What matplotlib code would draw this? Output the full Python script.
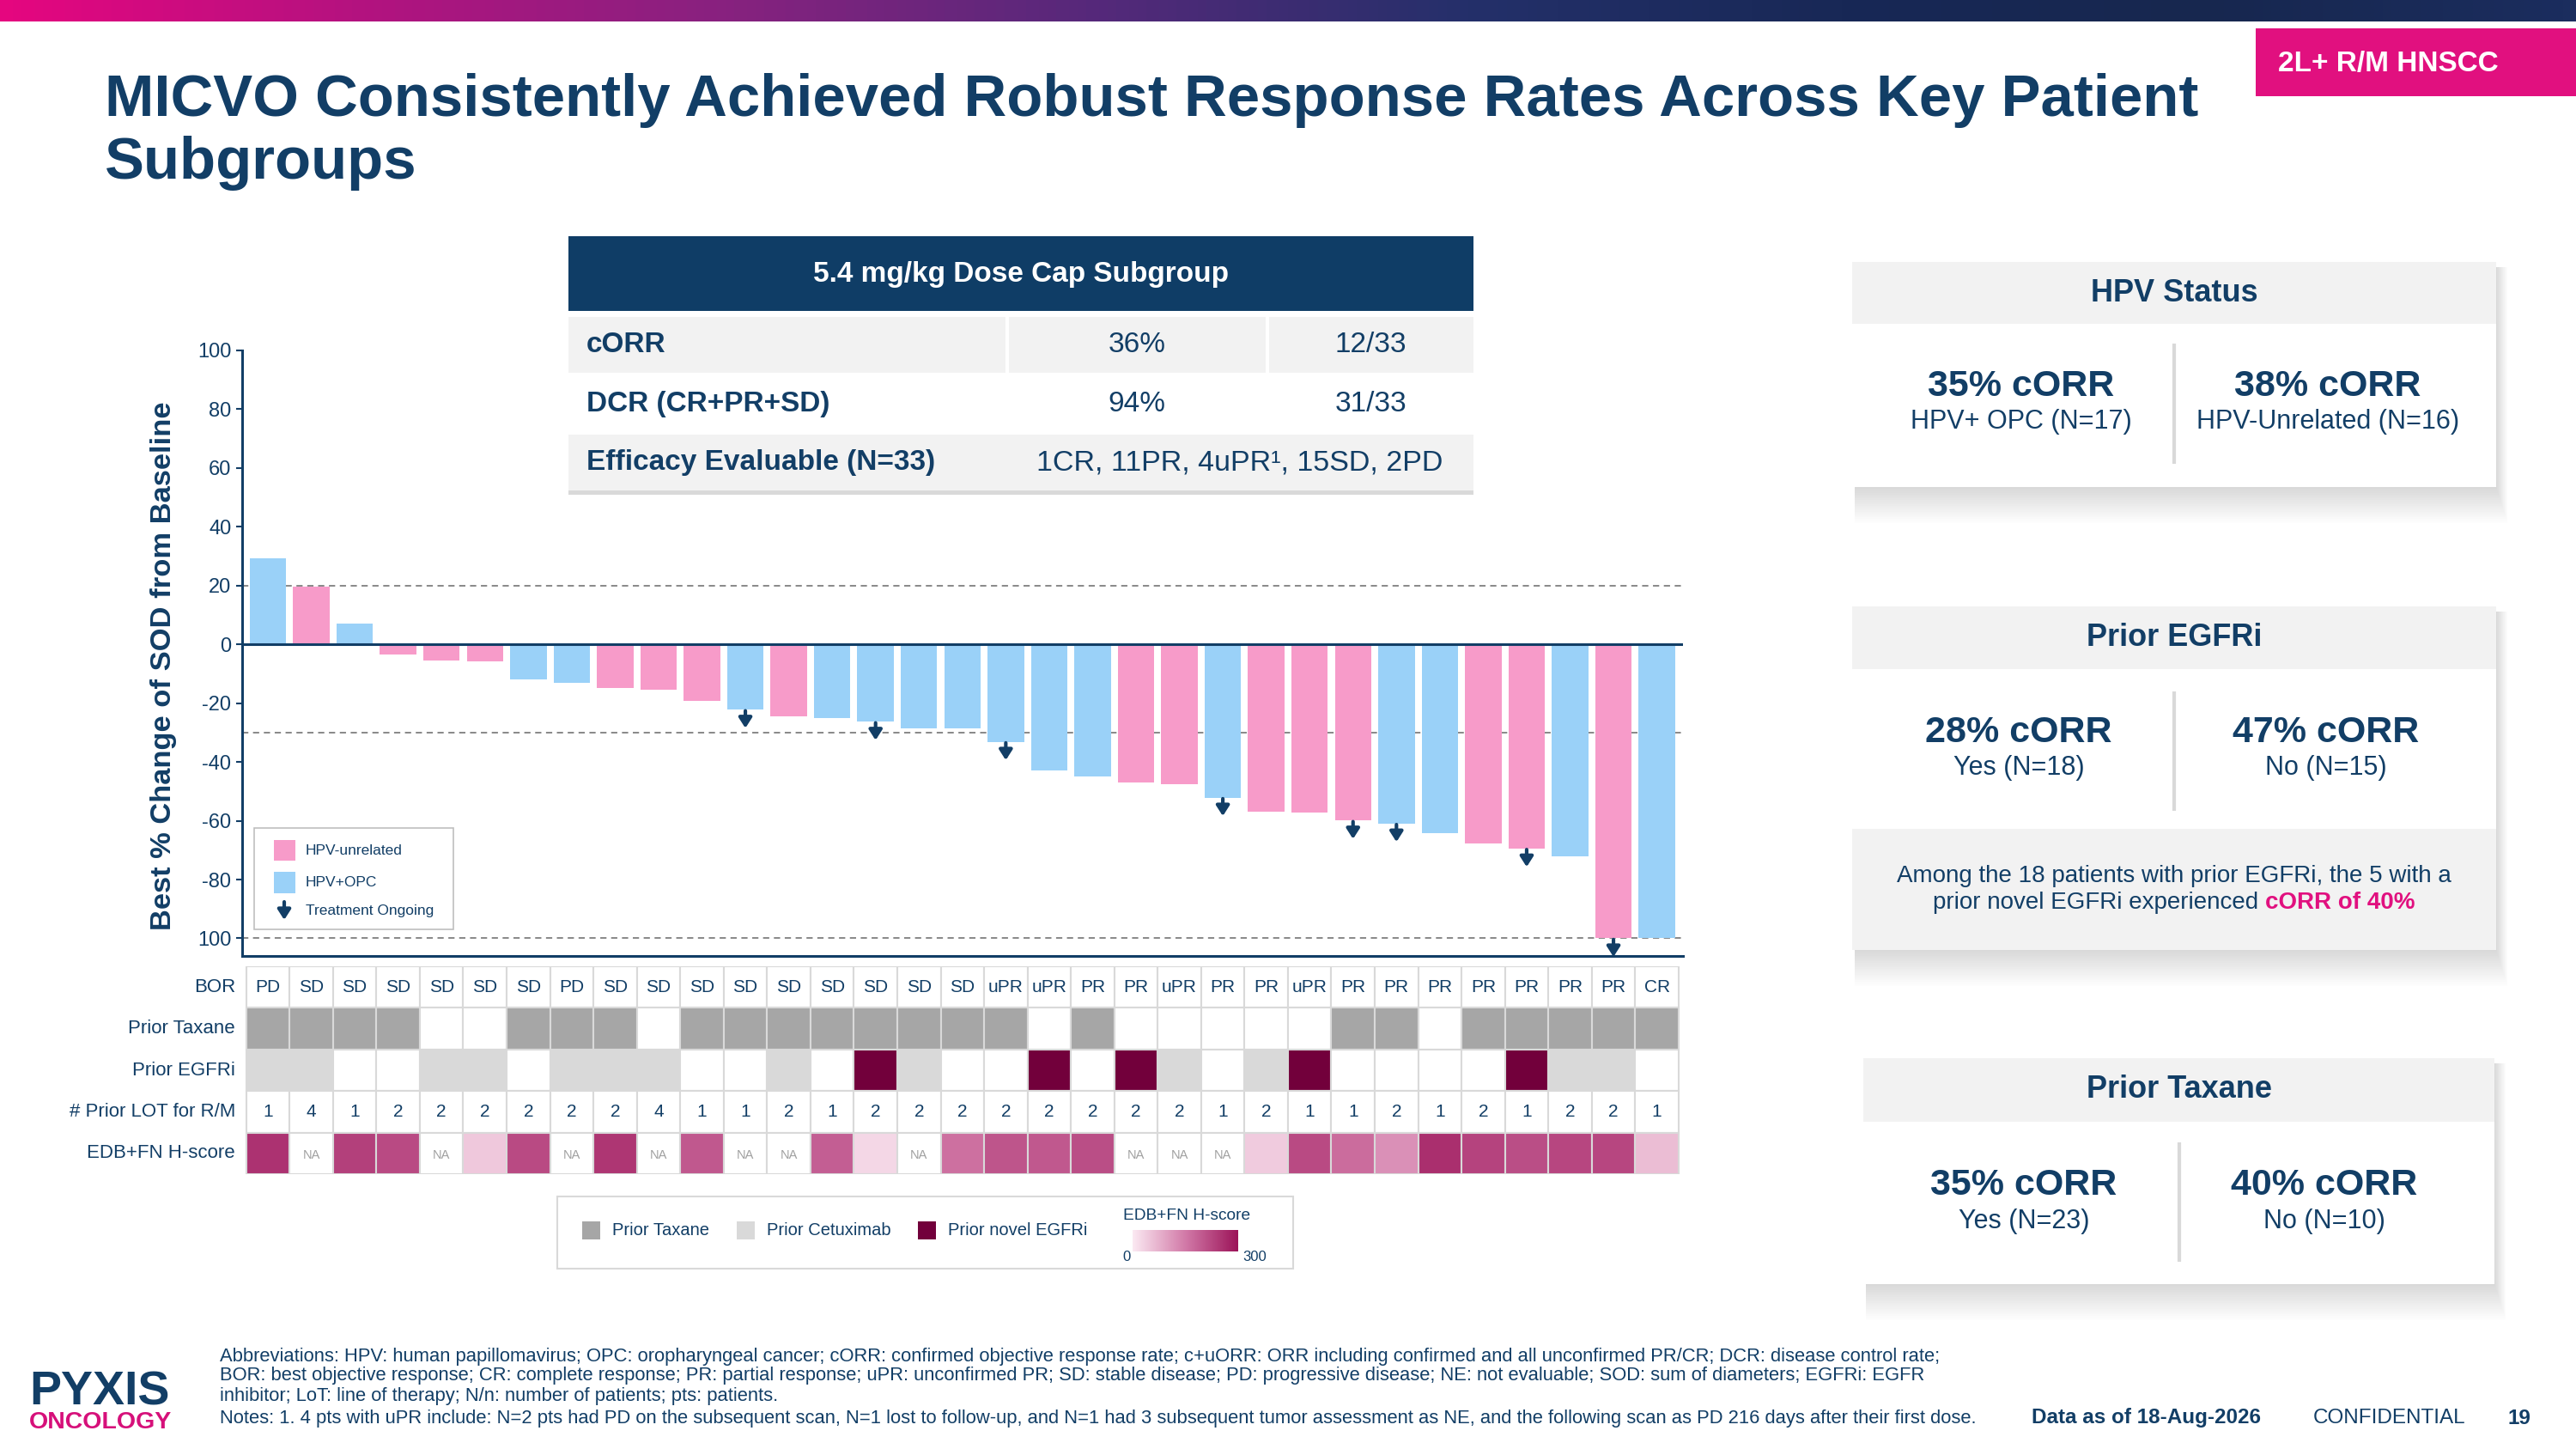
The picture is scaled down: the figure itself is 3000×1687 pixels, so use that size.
import matplotlib
matplotlib.use('Agg')
import matplotlib.pyplot as plt
from matplotlib.patches import Rectangle
from matplotlib.colors import LinearSegmentedColormap
import numpy as np

plt.rcParams['font.family'] = ['Liberation Sans', 'DejaVu Sans']

# ---------------- data ----------------
sod_change = [29.3, 19.5, 7.1, -3.5, -5.5, -5.9, -12.0, -13.2, -14.7, -15.4, -19.1,
              -22.2, -24.5, -25.2, -26.3, -28.6, -28.5, -33.1, -42.8, -44.9, -46.9,
              -47.5, -52.1, -56.8, -57.2, -59.9, -60.9, -64.3, -67.6, -69.4, -72.0,
              -100.0, -100.0]
hpv_status = ['OPC', 'UNR', 'OPC', 'UNR', 'UNR', 'UNR', 'OPC', 'OPC', 'UNR', 'UNR', 'UNR',
              'OPC', 'UNR', 'OPC', 'OPC', 'OPC', 'OPC', 'OPC', 'OPC', 'OPC', 'UNR', 'UNR',
              'OPC', 'UNR', 'UNR', 'UNR', 'OPC', 'OPC', 'UNR', 'UNR', 'OPC', 'UNR', 'OPC']
treatment_ongoing = [12, 15, 18, 23, 26, 27, 30, 32]   # patient position (1-based)

bor = ['PD', 'SD', 'SD', 'SD', 'SD', 'SD', 'SD', 'PD', 'SD', 'SD', 'SD', 'SD', 'SD', 'SD',
       'SD', 'SD', 'SD', 'uPR', 'uPR', 'PR', 'PR', 'uPR', 'PR', 'PR', 'uPR', 'PR', 'PR',
       'PR', 'PR', 'PR', 'PR', 'PR', 'CR']
prior_taxane = [1, 1, 1, 1, 0, 0, 1, 1, 1, 0, 1, 1, 1, 1, 1, 1, 1, 1, 0, 1, 0, 0, 0, 0, 0,
                1, 1, 0, 1, 1, 1, 1, 1]
prior_egfri = ['cetux', 'cetux', 'none', 'none', 'cetux', 'cetux', 'none', 'cetux', 'cetux',
               'cetux', 'none', 'none', 'cetux', 'none', 'novel', 'cetux', 'none', 'none',
               'novel', 'none', 'novel', 'cetux', 'none', 'cetux', 'novel', 'none', 'none',
               'none', 'none', 'novel', 'cetux', 'cetux', 'none']
prior_lot = [1, 4, 1, 2, 2, 2, 2, 2, 2, 4, 1, 1, 2, 1, 2, 2, 2, 2, 2, 2, 2, 2, 1, 2, 1, 1, 2,
             1, 2, 1, 2, 2, 1]
hscore = [255, None, 235, 220, None, 45, 220, None, 250, None, 200, None, None, 190, 25, None,
          165, 205, 200, 215, None, None, None, 40, 220, 170, 120, 260, 230, 215, 225, 225, 60]

ytick_values = [100, 80, 60, 40, 20, 0, -20, -40, -60, -80, -100]
ytick_labels = ['100', '80', '60', '40', '20', '0', '-20', '-40', '-60', '-80', '100']
reference_lines = [20, -30, -100]
row_labels = ['BOR', 'Prior Taxane', 'Prior EGFRi', '# Prior LOT for R/M', 'EDB+FN H-score']

summary_header = '5.4 mg/kg Dose Cap Subgroup'
summary_labels = ['cORR', 'DCR (CR+PR+SD)', 'Efficacy Evaluable (N=33)']
summary_pct = ['36%', '94%']
summary_frac = ['12/33', '31/33']
summary_eval = '1CR, 11PR, 4uPR\u00b9, 15SD, 2PD'

panel_titles = ['HPV Status', 'Prior EGFRi', 'Prior Taxane']
panel_corr = [('35% cORR', '38% cORR'), ('28% cORR', '47% cORR'), ('35% cORR', '40% cORR')]
panel_sub = [('HPV+ OPC (N=17)', 'HPV-Unrelated (N=16)'), ('Yes (N=18)', 'No (N=15)'),
             ('Yes (N=23)', 'No (N=10)')]

title_lines = ['MICVO Consistently Achieved Robust Response Rates Across Key Patient', 'Subgroups']
tag_text = '2L+ R/M HNSCC'
footnotes = [
    'Abbreviations: HPV: human papillomavirus; OPC: oropharyngeal cancer; cORR: confirmed objective response rate; c+uORR: ORR including confirmed and all unconfirmed PR/CR; DCR: disease control rate;',
    'BOR: best objective response; CR: complete response; PR: partial response; uPR: unconfirmed PR; SD: stable disease; PD: progressive disease; NE: not evaluable; SOD: sum of diameters; EGFRi: EGFR',
    'inhibitor; LoT: line of therapy; N/n: number of patients; pts: patients.',
    'Notes: 1. 4 pts with uPR include: N=2 pts had PD on the subsequent scan, N=1 lost to follow-up, and N=1 had 3 subsequent tumor assessment as NE, and the following scan as PD 216 days after their first dose.',
]

# ---------------- style ----------------
NAVY = '#123E66'
HDR = '#0F3D66'
PINK_BAR = '#F79BC9'
BLUE_BAR = '#9AD1F8'
TAXANE = '#A6A6A6'
CETUX = '#D9D9D9'
NOVEL = '#72003B'
GRID = '#D9D9D9'
MAGENTA = '#E1107F'
LIGHT = '#F2F2F2'
ARROW = dict(arrowstyle='-|>,head_width=0.32,head_length=0.5', color=NAVY, lw=3.0,
             shrinkA=0, shrinkB=0, mutation_scale=14)

W, H = 3000, 1687
fig = plt.figure(figsize=(30, 16.87), dpi=100)
fig.patch.set_facecolor('white')


def px_axes(x0, y0, x1, y1):
    return fig.add_axes([x0 / W, 1 - y1 / H, (x1 - x0) / W, (y1 - y0) / H])


# ---------------- waterfall ----------------
step = 50.55
c0 = 312.0
xlim = ((282 - c0) / step, (1960 - c0) / step)
wf = px_axes(282, 408, 1960, 1113)
wf.patch.set_alpha(0)
wf.set_xlim(xlim)
wf.set_ylim(-106, 100)
xs = np.arange(len(sod_change))
bar_colors = [BLUE_BAR if h == 'OPC' else PINK_BAR for h in hpv_status]
wf.bar(xs, sod_change, width=0.84, color=bar_colors, zorder=2)
for r in reference_lines:
    wf.axhline(r, color='#7F7F7F', lw=1.3, ls=(0, (4, 3)), zorder=1)
wf.axhline(0, color=NAVY, lw=2.2, zorder=3)
for k in treatment_ongoing:
    i = k - 1
    v = sod_change[i]
    wf.annotate('', xy=(i, v - 6.3), xytext=(i, v - 0.4), arrowprops=ARROW,
                zorder=4, annotation_clip=False)
for s in ['top', 'right']:
    wf.spines[s].set_visible(False)
for s in ['left', 'bottom']:
    wf.spines[s].set_color(NAVY)
    wf.spines[s].set_linewidth(2.2)
wf.set_yticks(ytick_values)
wf.set_yticklabels(ytick_labels)
wf.tick_params(axis='y', colors=NAVY, labelsize=17, length=5, width=1.5, pad=4)
wf.tick_params(axis='x', bottom=False, labelbottom=False)

# ---------------- heatmap ----------------
hm = px_axes(282, 1125, 1960, 1367)
hm.set_xlim(xlim)
hm.set_ylim(5, 0)
hm.axis('off')
hcmap = LinearSegmentedColormap.from_list('hs', ['#FBE9F2', '#D27AA8', '#9C1459'])
egfri_col = {'none': 'white', 'cetux': CETUX, 'novel': NOVEL}
for i in range(len(bor)):
    fills = ['white', TAXANE if prior_taxane[i] else 'white', egfri_col[prior_egfri[i]], 'white',
             'white' if hscore[i] is None else hcmap(hscore[i] / 300.0)]
    for r, fc in enumerate(fills):
        hm.add_patch(Rectangle((i - 0.5, r), 1, 1, fc=fc, ec=GRID, lw=1.5))
    hm.text(i, 0.5, bor[i], ha='center', va='center', fontsize=15, color=NAVY)
    hm.text(i, 3.5, str(prior_lot[i]), ha='center', va='center', fontsize=15, color=NAVY)
    if hscore[i] is None:
        hm.text(i, 4.55, 'NA', ha='center', va='center', fontsize=10.5, color='#A0A0A0')
for r, lab in enumerate(row_labels):
    hm.text(-0.75, r + 0.5, lab, ha='right', va='center', fontsize=16, color=NAVY)

# ---------------- page overlay ----------------
pg = fig.add_axes([0, 0, 1, 1])
pg.patch.set_alpha(0)
banner = LinearSegmentedColormap.from_list('bn', ['#E5067F', '#B2137F', '#86227F', '#54297A',
                                                  '#24306A', '#182856', '#17274F', '#1B2D5E'])
pg.imshow(np.linspace(0, 1, 600)[None, :], extent=(0, W, 25, 0), cmap=banner, aspect='auto',
          zorder=0)
pg.set_xlim(0, W)
pg.set_ylim(H, 0)
pg.axis('off')


def rect(x0, y0, x1, y1, **kw):
    kw.setdefault('lw', 0)
    pg.add_patch(Rectangle((x0, y0), x1 - x0, y1 - y0, **kw))


def shadow(x0, y0, x1, y1, n=20):
    for k in range(n):
        rect(x0 + 3, y0 + 6, x1 + k * 0.7, y1 + k * 2.2, fc='black', alpha=0.006, zorder=0.5)


# tag box
rect(2627, 33, 3000, 112, fc=MAGENTA, zorder=1)
pg.text(2781, 74, tag_text, ha='center', va='center', fontsize=24, weight='bold',
        color='white', zorder=2)

# title
pg.text(122, 135, title_lines[0], ha='left', va='baseline', fontsize=49.6, weight='bold', color=NAVY)
pg.text(122, 208, title_lines[1], ha='left', va='baseline', fontsize=49.6, weight='bold', color=NAVY)

# y-axis label
pg.text(191, 775, 'Best % Change of SOD from Baseline', rotation=90, ha='center', va='center',
        fontsize=24.8, weight='bold', color=NAVY)

# waterfall legend
rect(296, 964, 528, 1082, fc='white', ec='#BFBFBF', lw=1.2, zorder=3)
rect(319, 978, 344, 1002, fc=PINK_BAR, zorder=4)
rect(319, 1015, 344, 1040, fc=BLUE_BAR, zorder=4)
pg.annotate('', xy=(331, 1071), xytext=(331, 1050), arrowprops=ARROW, zorder=5)
for yy, s in zip([990, 1027, 1060], ['HPV-unrelated', 'HPV+OPC', 'Treatment Ongoing']):
    pg.text(356, yy, s, ha='left', va='center', fontsize=12.5, color=NAVY, zorder=5)

# heatmap legend
rect(649, 1393, 1506, 1477, fc='white', ec=GRID, lw=1.5, zorder=1)
for x0, fc, s in zip([678, 858, 1069], [TAXANE, CETUX, NOVEL],
                     ['Prior Taxane', 'Prior Cetuximab', 'Prior novel EGFRi']):
    rect(x0, 1422, x0 + 21, 1443, fc=fc, zorder=2)
    pg.text(x0 + 35, 1433, s, ha='left', va='center', fontsize=14.5, color=NAVY, zorder=2)
pg.text(1382, 1416, 'EDB+FN H-score', ha='center', va='center', fontsize=13.8, color=NAVY, zorder=2)
pg.imshow(np.linspace(0, 1, 300)[None, :], extent=(1319, 1442, 1457, 1432), cmap=hcmap,
          aspect='auto', zorder=2)
pg.text(1312, 1463, '0', ha='center', va='center', fontsize=12, color=NAVY, zorder=2)
pg.text(1461, 1463, '300', ha='center', va='center', fontsize=12, color=NAVY, zorder=2)
pg.set_xlim(0, W)
pg.set_ylim(H, 0)

# summary table
rect(662, 275, 1716, 362, fc=HDR, zorder=1)
pg.text(1189, 319, summary_header, ha='center', va='center', fontsize=24, weight='bold',
        color='white', zorder=2)
rect(662, 369, 1171, 434, fc=LIGHT, zorder=1)
rect(1175, 369, 1474, 434, fc=LIGHT, zorder=1)
rect(1478, 369, 1716, 434, fc=LIGHT, zorder=1)
rect(662, 506, 1716, 571, fc=LIGHT, zorder=1)
rect(662, 571, 1716, 576, fc=GRID, zorder=1)
row_y = [401, 470, 539]
for yy, lab in zip(row_y, summary_labels):
    pg.text(683, yy, lab, ha='left', va='center', fontsize=24, weight='bold', color=NAVY, zorder=2)
for yy, p, f in zip(row_y[:2], summary_pct, summary_frac):
    pg.text(1324, yy, p, ha='center', va='center', fontsize=24, color=NAVY, zorder=2)
    pg.text(1596, yy, f, ha='center', va='center', fontsize=24, color=NAVY, zorder=2)
pg.text(1444, row_y[2], summary_eval, ha='center', va='center', fontsize=24.5, color=NAVY, zorder=2)

# right panels
panels = [
    dict(x0=2157, x1=2907, hy0=305, hy1=377, by1=567, d0=400, d1=540, ty=341, cy=450, sy=491,
         lx=2354, rx=2711),
    dict(x0=2157, x1=2907, hy0=706, hy1=779, by1=965, d0=805, d1=944, ty=742, cy=853, sy=894,
         lx=2351, rx=2709),
    dict(x0=2170, x1=2905, hy0=1232, hy1=1306, by1=1495, d0=1330, d1=1469, ty=1269, cy=1380,
         sy=1422, lx=2357, rx=2707),
]
for k, p in enumerate(panels):
    bottom = 1106 if k == 1 else p['by1']
    shadow(p['x0'], p['hy0'], p['x1'], bottom)
    rect(p['x0'], p['hy0'], p['x1'], p['hy1'], fc=LIGHT, zorder=1)
    rect(p['x0'], p['hy1'], p['x1'], p['by1'], fc='white', zorder=1)
    pg.plot([(p['x0'] + p['x1']) / 2] * 2, [p['d0'], p['d1']], color=GRID, lw=3, zorder=2,
            solid_capstyle='butt')
    pg.text((p['x0'] + p['x1']) / 2, p['ty'], panel_titles[k], ha='center', va='center',
            fontsize=26, weight='bold', color=NAVY, zorder=2)
    for xx, big, sub in zip([p['lx'], p['rx']], panel_corr[k], panel_sub[k]):
        pg.text(xx, p['cy'], big, ha='center', va='center', fontsize=31, weight='bold',
                color=NAVY, zorder=2)
        pg.text(xx, p['sy'], sub, ha='center', va='center', fontsize=22, color=NAVY, zorder=2)

# note box under Prior EGFRi
rect(2157, 965, 2907, 1106, fc=LIGHT, zorder=1)
pg.text(2532, 1020, 'Among the 18 patients with prior EGFRi, the 5 with a', ha='center',
        va='center', fontsize=20, color=NAVY, zorder=2)
renderer = fig.canvas.get_renderer()
t1 = pg.text(0, 1051, 'prior novel EGFRi experienced', ha='left', va='center', fontsize=20,
             color=NAVY, zorder=2)
t2 = pg.text(0, 1051, 'cORR of 40%', ha='left', va='center', fontsize=20, weight='bold',
             color=MAGENTA, zorder=2)
w1 = t1.get_window_extent(renderer=renderer).width
w2 = t2.get_window_extent(renderer=renderer).width
sp = 20 * 100 / 72 * 0.278
start = 2532 - (w1 + sp + w2) / 2
t1.set_x(start)
t2.set_x(start + w1 + sp)

# footer
pg.text(34, 1636, 'PYXIS', ha='left', va='baseline', fontsize=40, weight='bold', color=NAVY)
pg.text(34, 1663, 'ONCOLOGY', ha='left', va='baseline', fontsize=20.5, weight='bold', color='#D6107A')
for yy, s in zip([1579, 1602, 1625, 1652], footnotes):
    pg.text(256, yy, s, ha='left', va='center', fontsize=15.8, color=NAVY)
pg.text(2366, 1651, 'Data as of 18-Aug-2026', ha='left', va='center', fontsize=17.5,
        weight='bold', color=NAVY)
pg.text(2694, 1651, 'CONFIDENTIAL', ha='left', va='center', fontsize=17.5, color=NAVY)
pg.text(2921, 1651, '19', ha='left', va='center', fontsize=17.5, weight='bold', color=NAVY)

fig.savefig('out.png', dpi=100)
